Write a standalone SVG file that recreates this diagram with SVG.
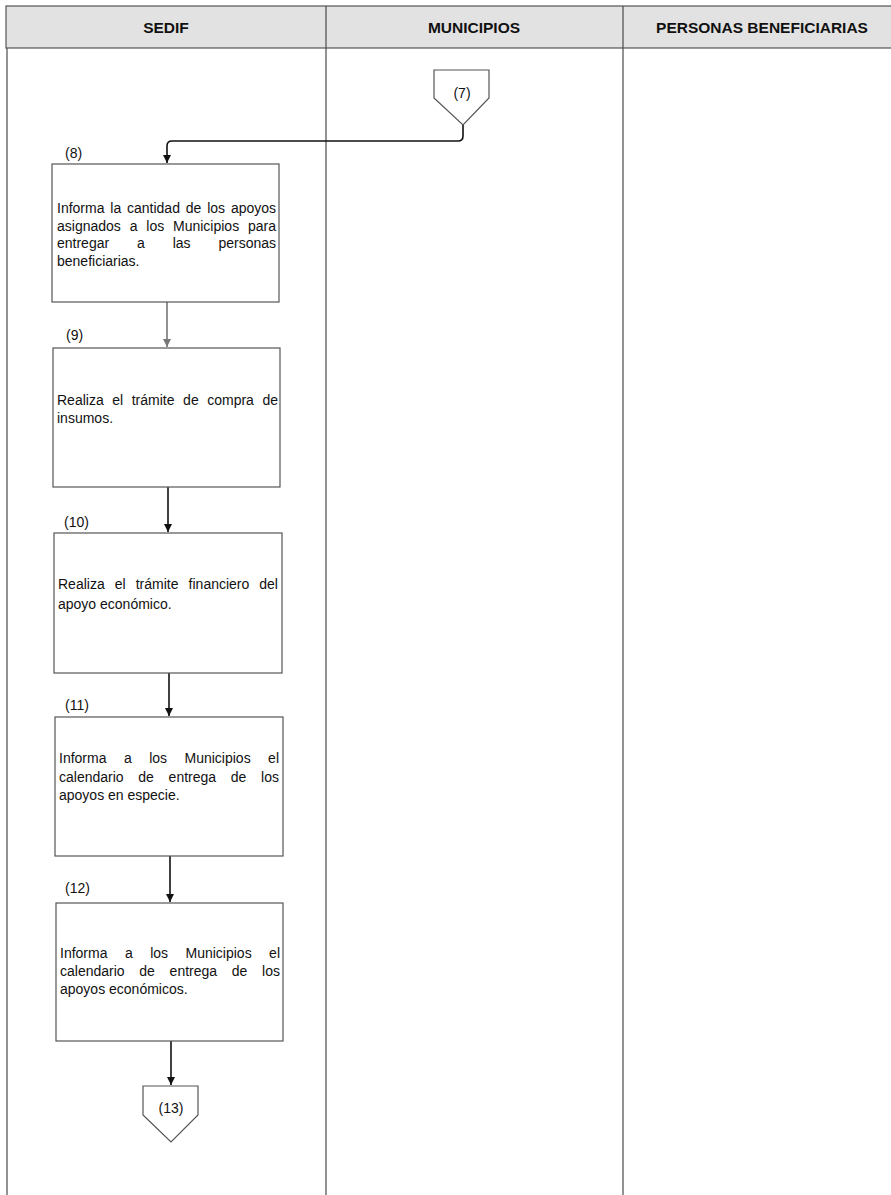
<svg xmlns="http://www.w3.org/2000/svg" width="891" height="1195" viewBox="0 0 891 1195">
<style>
.lane{stroke:#4a4a4a;stroke-width:1.2;fill:none}
.hdr{font-family:"Liberation Sans",Arial,sans-serif;font-size:15.5px;font-weight:bold;fill:#111;text-anchor:middle}
.box{fill:#fff;stroke:#555;stroke-width:1.2}
.t{font-family:"Liberation Sans",Arial,sans-serif;font-size:14px;fill:#111}
.lbl{font-family:"Liberation Sans",Arial,sans-serif;font-size:14px;fill:#111}
.c{font-family:"Liberation Sans",Arial,sans-serif;font-size:14px;fill:#111;text-anchor:middle}
.conn{stroke:#111;stroke-width:1.6;fill:none}
</style>
<defs>
<marker id="ah" viewBox="0 0 10 10" refX="10" refY="5" markerWidth="8" markerHeight="9" markerUnits="userSpaceOnUse" orient="auto">
<path d="M0,0 L10,5 L0,10 z" fill="#111"/>
</marker>
<marker id="ahg" viewBox="0 0 10 10" refX="10" refY="5" markerWidth="8" markerHeight="10" markerUnits="userSpaceOnUse" orient="auto">
<path d="M0,0 L10,5 L0,10 z" fill="#777"/>
</marker>
</defs>
<rect width="891" height="1195" fill="#fff"/>
<g id="header">
<rect x="6" y="6" width="890" height="42" fill="#e2e2e2" stroke="#555" stroke-width="1.2"/>
<line class="lane" x1="326" y1="6" x2="326" y2="48"/>
<line class="lane" x1="623" y1="6" x2="623" y2="48"/>
<text class="hdr" x="166" y="33">SEDIF</text>
<text class="hdr" x="474" y="33">MUNICIPIOS</text>
<text class="hdr" x="762" y="33">PERSONAS BENEFICIARIAS</text>
</g>
<g id="lanes">
<line class="lane" x1="7" y1="48" x2="7" y2="1195"/>
<line class="lane" x1="326" y1="48" x2="326" y2="1195"/>
<line class="lane" x1="623" y1="48" x2="623" y2="1195"/>
</g>
<g id="connectors">
<path class="conn" d="M463,125 V136 Q463,141 458,141 H172 Q167,141 167,146 V163" marker-end="url(#ah)"/>
<path d="M167,302 V347" stroke="#777" stroke-width="1.6" fill="none" marker-end="url(#ahg)"/>
<path class="conn" d="M168,487 V532" marker-end="url(#ah)"/>
<path class="conn" d="M169,673 V716" marker-end="url(#ah)"/>
<path class="conn" d="M170,856 V902" marker-end="url(#ah)"/>
<path class="conn" d="M171,1041 V1085" marker-end="url(#ah)"/>
</g>
<g id="n7">
<polygon class="box" points="434,70 489,70 489,98 463,125 434,98"/>
<text class="c" x="462" y="98">(7)</text>
</g>
<g id="n8">
<text class="lbl" x="65" y="158">(8)</text>
<rect class="box" x="52" y="164" width="227" height="138"/>
<text class="t" y="213"><tspan x="57">Informa</tspan><tspan x="110.3">la</tspan><tspan x="127">cantidad</tspan><tspan x="185.8">de</tspan><tspan x="207.2">los</tspan><tspan x="230.9">apoyos</tspan></text>
<text class="t" y="230.5"><tspan x="57">asignados</tspan><tspan x="129.7">a</tspan><tspan x="146.3">los</tspan><tspan x="173">Municipios</tspan><tspan x="248">para</tspan></text>
<text class="t" y="248"><tspan x="57">entregar</tspan><tspan x="137">a</tspan><tspan x="172.7">las</tspan><tspan x="218.4">personas</tspan></text>
<text class="t" x="57" y="265.5">beneficiarias.</text>
</g>
<g id="n9">
<text class="lbl" x="66" y="340">(9)</text>
<rect class="box" x="53" y="348" width="227" height="139"/>
<text class="t" y="405"><tspan x="57">Realiza</tspan><tspan x="112.3">el</tspan><tspan x="131.7">trámite</tspan><tspan x="183.1">de</tspan><tspan x="207.2">compra</tspan><tspan x="262.4">de</tspan></text>
<text class="t" x="57" y="423">insumos.</text>
</g>
<g id="n10">
<text class="lbl" x="64" y="527">(10)</text>
<rect class="box" x="54" y="533" width="228" height="140"/>
<text class="t" y="589"><tspan x="58">Realiza</tspan><tspan x="114.8">el</tspan><tspan x="135.7">trámite</tspan><tspan x="188.6">financiero</tspan><tspan x="259.3">del</tspan></text>
<text class="t" x="58" y="609">apoyo económico.</text>
</g>
<g id="n11">
<text class="lbl" x="65" y="710">(11)</text>
<rect class="box" x="55" y="717" width="228" height="139"/>
<text class="t" y="763"><tspan x="59">Informa</tspan><tspan x="123.9">a</tspan><tspan x="149.2">los</tspan><tspan x="184.5">Municipios</tspan><tspan x="268.1">el</tspan></text>
<text class="t" y="781.5"><tspan x="59">calendario</tspan><tspan x="138.3">de</tspan><tspan x="168.6">entrega</tspan><tspan x="230.8">de</tspan><tspan x="261.1">los</tspan></text>
<text class="t" x="59" y="800">apoyos en especie.</text>
</g>
<g id="n12">
<text class="lbl" x="65" y="893">(12)</text>
<rect class="box" x="56" y="903" width="227" height="138"/>
<text class="t" y="958"><tspan x="60">Informa</tspan><tspan x="124.9">a</tspan><tspan x="150.2">los</tspan><tspan x="185.5">Municipios</tspan><tspan x="269.1">el</tspan></text>
<text class="t" y="976"><tspan x="60">calendario</tspan><tspan x="139.3">de</tspan><tspan x="169.6">entrega</tspan><tspan x="231.8">de</tspan><tspan x="262.1">los</tspan></text>
<text class="t" x="60" y="994">apoyos económicos.</text>
</g>
<g id="n13">
<polygon class="box" points="143,1086 198,1086 198,1115 171,1142 143,1115"/>
<text class="c" x="171" y="1113">(13)</text>
</g>
</svg>
